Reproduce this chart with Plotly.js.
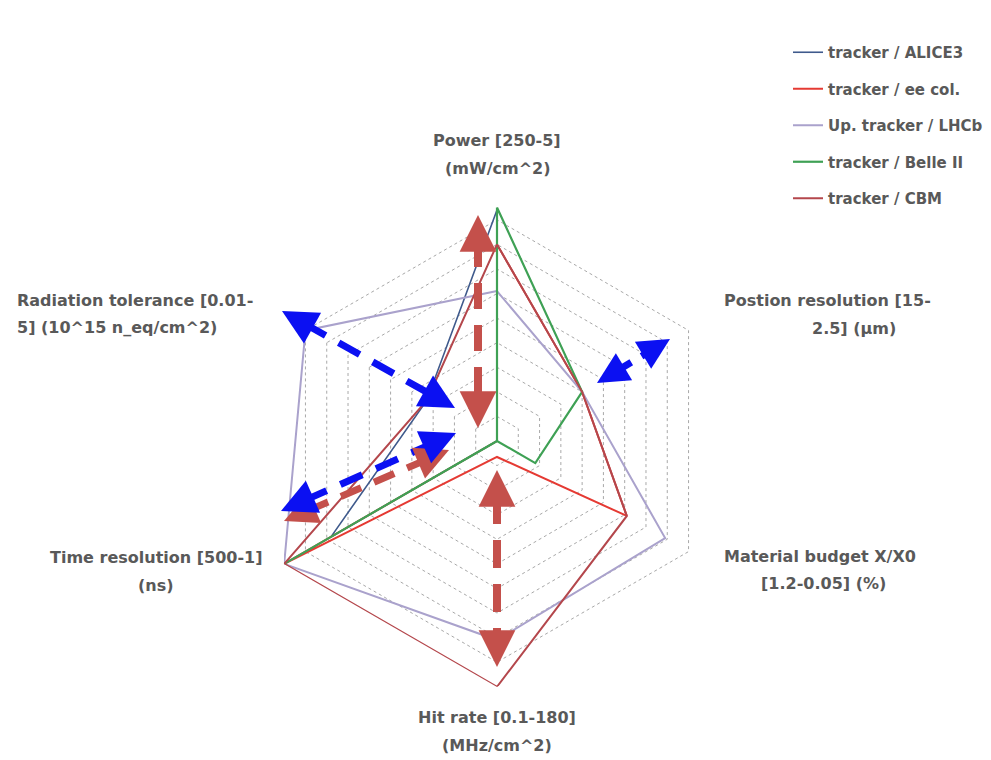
<!DOCTYPE html>
<html><head><meta charset="utf-8">
<script src="https://cdn.plot.ly/plotly-3.0.1.min.js"></script>
<style>html,body{margin:0;padding:0;background:#fff}#chart{width:991px;height:760px}</style>
</head><body><div id="chart"></div>
<script>
// ---- data ----
const categories = ["Power [250-5] (mW/cm^2)", "Postion resolution [15-2.5] (µm)", "Material budget X/X0 [1.2-0.05] (%)", "Hit rate [0.1-180] (MHz/cm^2)", "Time resolution [500-1] (ns)", "Radiation tolerance [0.01-5] (10^15 n_eq/cm^2)"];
const seriesNames = ["tracker / ALICE3", "tracker / ee col.", "Up. tracker / LHCb", "tracker / Belle II", "tracker / CBM"];
const alice3 = [9.4, 0, 0, 0, 7.8, 3.3];
const eeCol  = [8.0, 4.0, 6.1, 0.65, 10, 0];
const lhcb   = [6.1, 4.0, 7.9, 8.1, 10, 9.0];
const belle2 = [9.5, 4.0, 1.8, 0, 10, 0];
const cbm    = [8.0, 4.0, 6.1, 10, 10, 3.3];
const radialTicks = [1, 2, 3, 4, 5, 6, 7, 8, 9, 10];
const labelLines = [["Power [250-5]", "(mW/cm^2)"], ["Postion resolution [15-", "2.5] (µm)"], ["Material budget X/X0", "[1.2-0.05] (%)"], ["Hit rate [0.1-180]", "(MHz/cm^2)"], ["Time resolution [500-1]", "(ns)"], ["Radiation tolerance [0.01-", "5] (10^15 n_eq/cm^2)"]];

// ---- styling ----
const W = 991, H = 760;
const px = x => x / W, py = y => 1 - y / H;
const seriesValues = [alice3, eeCol, lhcb, belle2, cbm];
const colors = ["#3f5a8c", "#e53a33", "#aaa2cc", "#3fa155", "#b4474c"];
const widths = [1.6, 2, 2, 2.2, 2];

const traces = seriesValues.map((v, i) => ({
  type: "scatterpolar", mode: "lines",
  r: v.concat([v[0]]), theta: categories.concat([categories[0]]),
  name: seriesNames[i], legendgroup: "g" + i,
  line: {color: colors[i], width: widths[i]},
  hoverinfo: "skip"
}));

const labelFont = {family: "DejaVu Sans", size: 16, color: "#595959", weight: "bold"};
const labelPos = [
  [[497, 141, "center"], [497, 168, "center"]],
  [[722, 300, "left"], [810, 328, "left"]],
  [[722, 556, "left"], [759, 583, "left"]],
  [[497, 717, "center"], [497, 745, "center"]],
  [[156, 557, "center"], [156, 585, "center"]],
  [[15, 300, "left"], [15, 327, "left"]]
];
const annotations = [];
labelLines.forEach((lines, i) => lines.forEach((t, j) => {
  const p = labelPos[i][j];
  annotations.push({xref: "paper", yref: "paper", x: px(p[0]), y: py(p[1]), xanchor: p[2], yanchor: "middle",
    text: t, showarrow: false, font: labelFont});
}));

const shapes = [];
function dblArrow(p1, p2, color, width, dash, hsize) {
  const dx = p2[0] - p1[0], dy = p2[1] - p1[1], L = Math.hypot(dx, dy), ux = dx / L, uy = dy / L;
  const hl = 26;
  shapes.push({type: "line", xref: "paper", yref: "paper", layer: "above",
    x0: px(p1[0] + ux * hl), y0: py(p1[1] + uy * hl), x1: px(p2[0] - ux * hl), y1: py(p2[1] - uy * hl),
    line: {color: color, width: width, dash: dash}});
  [[p1, ux, uy], [p2, -ux, -uy]].forEach(([tip, vx, vy]) => annotations.push({
    xref: "paper", yref: "paper", x: px(tip[0]), y: py(tip[1]), ax: vx * 24, ay: vy * 24,
    text: "", showarrow: true, arrowhead: 2, arrowsize: hsize, arrowwidth: 7, arrowcolor: color, standoff: 0
  }));
}
const RED = "#c4504b", BLUE = "#0b10f2";
dblArrow([284, 521], [449, 450], RED, 7, "22px,14px", 0.95);
dblArrow([478, 215], [478, 428], RED, 8, "26px,16px", 1.05);
dblArrow([497, 470], [497, 667], RED, 8, "28px,16px", 1.05);
dblArrow([282, 311], [455, 408], BLUE, 7, "24px,15px", 1.0);
dblArrow([281, 511], [456, 433], BLUE, 7, "24px,15px", 1.0);
dblArrow([597, 383], [670, 339], BLUE, 7, "14px,12px", 0.9);

const layout = {
  width: W, height: H, margin: {l: 0, r: 0, t: 0, b: 0},
  paper_bgcolor: "#ffffff", showlegend: true,
  polar: {
    domain: {x: [px(251), px(743)], y: [py(687), py(195)]},
    gridshape: "linear", bgcolor: "#ffffff",
    radialaxis: {range: [0, 10.01], tickmode: "array", tickvals: radialTicks, showticklabels: false, ticks: "", showline: false,
      gridcolor: "#a8a8a8", griddash: "dot", gridwidth: 1},
    angularaxis: {type: "category", categoryorder: "array", categoryarray: categories, rotation: 90,
      direction: "clockwise", showticklabels: false, ticks: "", showline: false, showgrid: false}
  },
  legend: {x: px(788), y: py(36), xanchor: "left", yanchor: "top", itemwidth: 30,
    font: {family: "DejaVu Sans", size: 15, color: "#595959", weight: "bold"},
    tracegroupgap: 14, bgcolor: "rgba(0,0,0,0)"},
  annotations: annotations, shapes: shapes
};
Plotly.newPlot("chart", traces, layout, {displayModeBar: false, staticPlot: true});
</script></body></html>
